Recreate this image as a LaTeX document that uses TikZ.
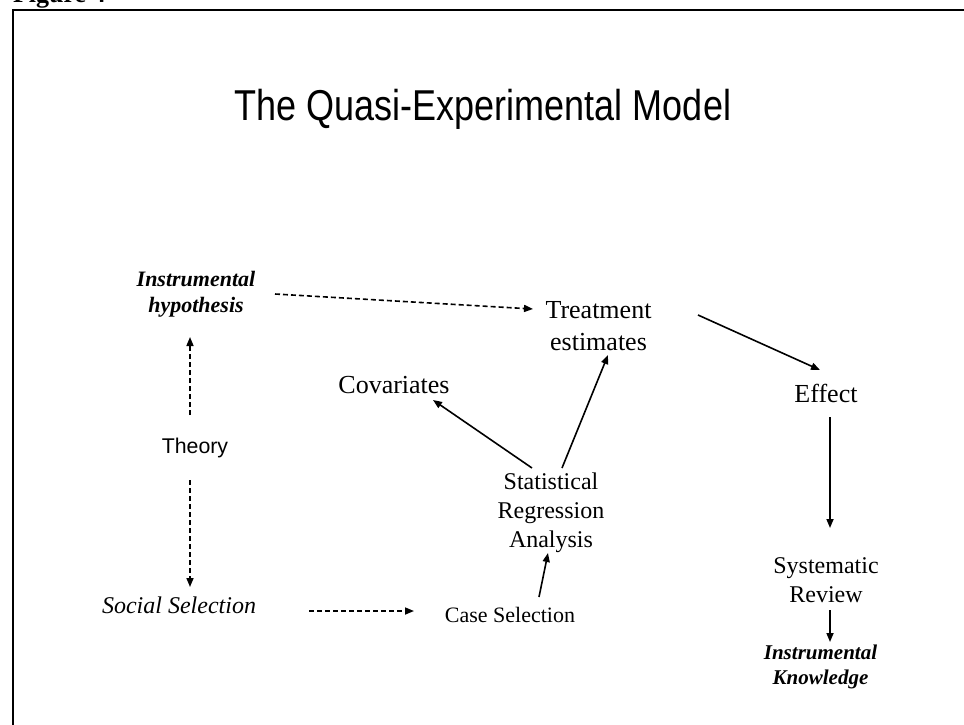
\documentclass[tikz,border=0pt]{standalone}
\usepackage{fontspec}
\usepackage{graphicx}
\setmainfont{Liberation Serif}
\newfontfamily\arialf{Liberation Sans}
\usetikzlibrary{arrows.meta,calc}
\newcommand\mlines[3]{\fontsize{#1}{#2}\selectfont\begin{tabular}[t]{@{}c@{}}#3\end{tabular}}
\tikzset{
  txt/.style={anchor=base, inner sep=0pt, outer sep=0pt},
  arr/.style={line width=1.6pt, -{Triangle[length=9pt,width=7pt]}},
  darr/.style={arr, dash pattern=on 5pt off 3pt},
}
\begin{document}
\begin{tikzpicture}[x=1pt,y=-1pt]
\useasboundingbox (0,0) rectangle (964,724);
\fill[white] (0,0) rectangle (964,724);
\clip (0,0) rectangle (964,724);
\node[txt, anchor=base west] (fig) at (13,2) {\fontsize{26}{30}\selectfont\bfseries Figure 4};
\draw[line width=2pt] (13,10) rectangle (1000,760);
\node[txt] (title) at (483,120) {\arialf\fontsize{36}{42}\selectfont\scalebox{1}[1.2]{The Quasi-Experimental Model}};
\node[txt] (hyp) at (196,286) {\mlines{22}{26}{\bfseries\itshape Instrumental\\\bfseries\itshape hypothesis}};
\node[txt] (theory) at (195,453) {\arialf\fontsize{21.3}{26}\selectfont Theory};
\node[txt] (social) at (179,613) {\fontsize{24}{28}\selectfont\itshape Social Selection};
\node[txt] (case) at (510,622) {\fontsize{22}{26}\selectfont Case Selection};
\node[txt] (stat) at (551,489) {\mlines{24}{29}{Statistical\\Regression\\Analysis}};
\node[txt] (cov) at (394,393) {\fontsize{26}{30}\selectfont Covariates};
\node[txt] (treat) at (598.5,318) {\mlines{26}{32}{Treatment\\estimates}};
\node[txt] (effect) at (826,402) {\fontsize{26}{30}\selectfont Effect};
\node[txt] (sysrev) at (826,573) {\mlines{24}{29}{Systematic\\Review}};
\node[txt] (know) at (820.5,659) {\mlines{21}{25}{\bfseries\itshape Instrumental\\\bfseries\itshape Knowledge}};
% connectors
\draw[darr] ($(theory.base)+(-5,-38)$) -- ($(hyp.base)+(-6,51)$);
\draw[darr] ($(theory.base)+(-5,27)$) -- ($(social.base)+(11,-26)$);
\draw[darr] ($(hyp.base)+(79,8)$) -- ($(treat.base)+(-65.5,-9)$);
\draw[darr] ($(social.base)+(130,-2)$) -- ($(case.base)+(-96,-11)$);
\draw[arr] ($(case.base)+(29,-25)$) -- ($(stat.base)+(-3,64)$);
\draw[arr] ($(stat.base)+(-19,-21)$) -- ($(cov.base)+(39,7)$);
\draw[arr] ($(stat.base)+(11,-21)$) -- ($(treat.base)+(9.5,37)$);
\draw[arr] ($(treat.base)+(99.5,-3)$) -- ($(effect.base)+(-6,-32)$);
\draw[arr] ($(effect.base)+(4,15)$) -- ($(sysrev.base)+(4,-45)$);
\draw[arr] ($(sysrev.base)+(4,37)$) -- ($(know.base)+(9.5,-17)$);
\end{tikzpicture}
\end{document}
